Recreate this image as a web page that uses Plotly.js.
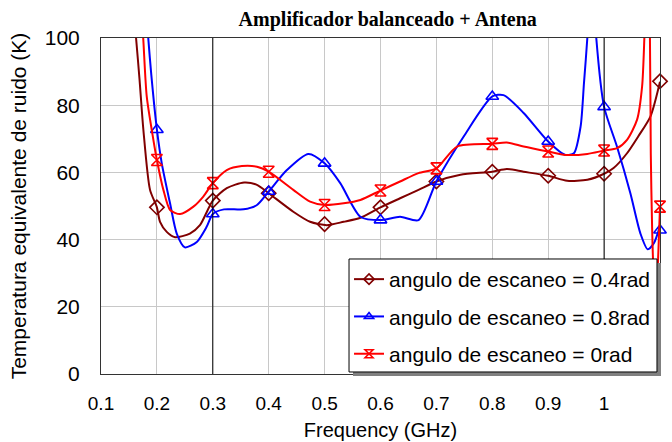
<!DOCTYPE html>
<html><head><meta charset="utf-8">
<script src="https://cdn.plot.ly/plotly-3.0.1.min.js"></script>
<style>html,body{margin:0;padding:0;background:#fff}</style>
</head><body><div id="chart" style="width:672px;height:442px"></div>
<script>
// ---- data ----
const freq04 = [0.158, 0.1627, 0.169, 0.1758, 0.1877, 0.2, 0.2056, 0.2176, 0.2325, 0.259, 0.277, 0.3, 0.325, 0.356, 0.379, 0.4, 0.444, 0.474, 0.504, 0.534, 0.564, 0.6, 0.635, 0.668, 0.7, 0.743, 0.8, 0.826, 0.856, 0.9, 0.934, 0.97, 1.0, 1.017, 1.041, 1.061, 1.083, 1.1];
const temp04 = [108, 100, 87.5, 72.7, 54.8, 49.6, 45.3, 42.3, 40.7, 41.8, 44.3, 51.6, 55.3, 57, 56.3, 53.8, 48.3, 45.3, 44.3, 45.3, 46.5, 49.6, 52.3, 54.8, 57.3, 59.3, 60.2, 61, 60.2, 59, 57.5, 57.8, 59.6, 61.3, 65.7, 70.7, 76.7, 87];

const freq08 = [0.181, 0.1845, 0.19, 0.2, 0.2087, 0.2235, 0.2355, 0.25, 0.2714, 0.289, 0.3, 0.32, 0.355, 0.379, 0.4, 0.4325, 0.471, 0.5, 0.528, 0.564, 0.6, 0.635, 0.668, 0.7, 0.75, 0.8, 0.82, 0.856, 0.9, 0.931, 0.946, 0.958, 0.964, 0.970, 0.978, 0.986, 1.0, 1.023, 1.047, 1.065, 1.078, 1.089, 1.1];
const temp08 = [108, 100, 89, 72.7, 62.7, 50.8, 41.8, 37.7, 39.3, 43.8, 47.6, 49, 49, 50.3, 54.3, 60.7, 65.5, 62.7, 56.8, 46.8, 45.8, 46.8, 45.8, 57.3, 71, 82.6, 83, 77.7, 69.2, 65.2, 65.7, 73.7, 86.6, 100, 125, 100, 79.5, 67.7, 53.8, 41.8, 37.1, 38.9, 44];

const freq0 = [0.171, 0.1755, 0.1818, 0.1937, 0.2, 0.2116, 0.2236, 0.2415, 0.2653, 0.283, 0.3, 0.325, 0.352, 0.379, 0.4, 0.444, 0.474, 0.5, 0.534, 0.564, 0.6, 0.635, 0.668, 0.7, 0.737, 0.8, 0.826, 0.856, 0.9, 0.931, 0.97, 1.0, 1.023, 1.041, 1.059, 1.068, 1.072, 1.077, 1.082, 1.0835, 1.086, 1.089, 1.093, 1.097, 1.1];
const temp0 = [110, 100, 82.6, 69.7, 63.7, 54.8, 48.8, 47.6, 49.8, 52.8, 56.8, 60.7, 61.9, 61.7, 60.2, 54.8, 51.3, 50.3, 50.8, 51.8, 54.6, 57.3, 59.8, 61.2, 67.7, 68.5, 68.9, 67.7, 66.2, 65.2, 65.5, 66.5, 67.2, 69.7, 75.7, 85.6, 100, 130, 100, 65.8, 42.8, 28, 22, 36, 49.8];

const markFreq = [0.2, 0.3, 0.4, 0.5, 0.6, 0.7, 0.8, 0.9, 1.0, 1.1];
const mark04 = [49.6, 51.6, 53.8, 44.6, 49.6, 57.3, 60.2, 59.0, 59.6, 87.1];
const mark08 = [72.7, 47.6, 54.3, 62.7, 45.8, 57.3, 82.6, 69.2, 79.5, 42.8];
const mark0  = [63.7, 56.8, 60.2, 50.3, 54.6, 61.2, 68.5, 66.2, 66.5, 49.8];

const seriesNames = ['angulo de escaneo = 0.4rad', 'angulo de escaneo = 0.8rad', 'angulo de escaneo = 0rad'];
const xTickVals = [0.1, 0.2, 0.3, 0.4, 0.5, 0.6, 0.7, 0.8, 0.9, 1.0, 1.1];
const xTickText = ['0.1', '0.2', '0.3', '0.4', '0.5', '0.6', '0.7', '0.8', '0.9', '1', '1.1'];
const yTickVals = [0, 20, 40, 60, 80, 100];

// ---- styling ----
const colors = ['#800000', '#0000ff', '#ff0000'];
const symbols = ['diamond-open', 'triangle-up-open', 'hourglass-open'];
const lines = [[freq04, temp04], [freq08, temp08], [freq0, temp0]];
const marks = [mark04, mark08, mark0];
const FONT = 'Liberation Sans, Arial, sans-serif';

const traces = [];
for (let i = 0; i < 3; i++) {
  traces.push({
    x: lines[i][0], y: lines[i][1], type: 'scatter', mode: 'lines',
    line: {color: colors[i], width: 2, shape: 'spline', smoothing: 0.7},
    showlegend: false, hoverinfo: 'skip', legendgroup: 'g' + i
  });
  traces.push({
    x: markFreq, y: marks[i], type: 'scatter', mode: 'markers',
    marker: {symbol: symbols[i], size: 11, color: colors[i], line: {color: colors[i], width: 1.6}},
    showlegend: false, cliponaxis: false, legendgroup: 'g' + i
  });
}
for (let i = 0; i < 3; i++) {
  traces.push({
    x: [null], y: [null], type: 'scatter', mode: 'lines+markers', name: seriesNames[i],
    legendgroup: 'g' + i,
    line: {color: colors[i], width: 2},
    marker: {symbol: symbols[i], size: 8, color: colors[i], line: {color: colors[i], width: 1.6}}
  });
}

const vline = (x) => ({type: 'line', xref: 'x', yref: 'paper', x0: x, x1: x, y0: 0, y1: 1,
  line: {color: '#000', width: 1}, layer: 'above'});

const layout = {
  width: 672, height: 442,
  margin: {l: 101, r: 12, t: 38, b: 68},
  paper_bgcolor: '#fff', plot_bgcolor: '#fff',
  font: {family: FONT, color: '#000', size: 18},
  title: {text: 'Amplificador balanceado + Antena', x: 0.577, xref: 'container', xanchor: 'center',
    y: 0.958, yref: 'container', yanchor: 'middle',
    font: {family: 'Liberation Serif, Times New Roman, serif', size: 20, weight: 'bold', color: '#000'}},
  xaxis: {range: [0.1, 1.1], tickvals: xTickVals, ticktext: xTickText, showgrid: true, gridcolor: '#c8c8c8',
    gridwidth: 1, zeroline: false, showline: true, mirror: true, linecolor: '#333', linewidth: 1,
    ticks: '', ticklabelstandoff: 12, tickfont: {size: 19, family: FONT},
    title: {text: 'Frequency (GHz)', font: {size: 20, family: FONT}, standoff: 10}},
  yaxis: {range: [0, 100], tickvals: yTickVals, showgrid: true, gridcolor: '#c8c8c8', gridwidth: 1,
    zeroline: false, showline: true, mirror: true, linecolor: '#333', linewidth: 1,
    ticks: '', ticklabelstandoff: 16, tickfont: {size: 21, family: FONT},
    title: {text: 'Temperatura equivalente de ruido (K)', font: {size: 21, family: FONT}, standoff: 12}},
  showlegend: true,
  legend: {x: 0.4437, xanchor: 'left', y: 0.3423, yanchor: 'top', bgcolor: 'rgba(0,0,0,0)', borderwidth: 0,
    font: {size: 21, family: FONT, color: '#000'}, tracegroupgap: 7, traceorder: 'grouped'},
  shapes: [
    vline(0.3), vline(1.0),
    {type: 'rect', xref: 'paper', yref: 'paper', x0: 0.4508, x1: 1.0018, y0: -0.006, y1: 0.3304,
      fillcolor: '#808080', line: {width: 0}, layer: 'above'},
    {type: 'rect', xref: 'paper', yref: 'paper', x0: 0.4437, x1: 0.9946, y0: 0.006, y1: 0.3423,
      fillcolor: '#fff', line: {color: '#000', width: 1}, layer: 'above'}
  ]
};

Plotly.newPlot('chart', traces, layout, {displayModeBar: false, staticPlot: true});
</script></body></html>
